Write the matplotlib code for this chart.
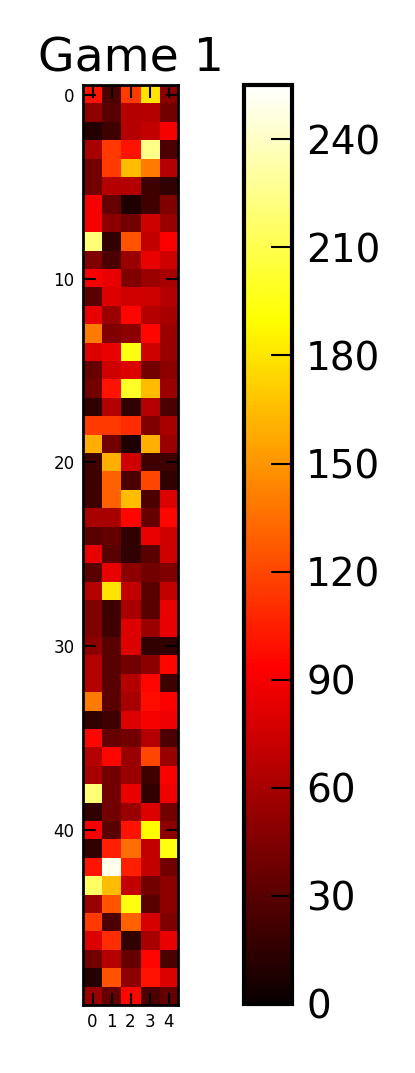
import matplotlib
matplotlib.use("Agg")
import matplotlib.pyplot as plt
import numpy as np

# values per move (rows) and player slot (columns)
game1_values = [
    [100, 25, 115, 180, 50],
    [50, 30, 65, 65, 40],
    [10, 20, 65, 70, 90],
    [60, 115, 100, 225, 25],
    [40, 115, 165, 140, 65],
    [40, 65, 65, 20, 15],
    [90, 35, 8, 20, 45],
    [90, 50, 40, 75, 55],
    [220, 15, 125, 70, 92],
    [45, 25, 55, 85, 75],
    [90, 85, 45, 55, 60],
    [30, 80, 75, 75, 65],
    [85, 55, 95, 65, 60],
    [140, 45, 50, 95, 55],
    [80, 85, 195, 75, 55],
    [35, 75, 80, 40, 50],
    [40, 100, 200, 165, 55],
    [15, 65, 15, 65, 25],
    [115, 115, 110, 45, 60],
    [160, 40, 8, 160, 55],
    [20, 160, 75, 20, 20],
    [20, 130, 25, 120, 15],
    [20, 130, 165, 25, 80],
    [60, 60, 95, 35, 95],
    [30, 35, 15, 85, 75],
    [85, 30, 15, 30, 75],
    [30, 85, 50, 40, 45],
    [65, 180, 70, 30, 70],
    [45, 20, 60, 30, 85],
    [45, 20, 80, 55, 85],
    [50, 30, 80, 15, 15],
    [65, 30, 40, 50, 95],
    [65, 30, 65, 95, 20],
    [140, 30, 60, 98, 92],
    [15, 20, 80, 90, 88],
    [95, 35, 40, 65, 25],
    [65, 95, 55, 120, 55],
    [60, 40, 55, 20, 92],
    [220, 40, 85, 15, 88],
    [15, 40, 55, 80, 40],
    [90, 30, 100, 190, 50],
    [15, 105, 135, 70, 195],
    [100, 250, 105, 70, 40],
    [215, 165, 70, 40, 50],
    [55, 125, 195, 30, 50],
    [115, 25, 130, 78, 45],
    [80, 110, 15, 60, 85],
    [40, 65, 35, 95, 25],
    [10, 125, 50, 100, 80],
    [55, 35, 95, 25, 35],
]
x_ticks = [0, 1, 2, 3, 4]
y_ticks = [0, 10, 20, 30, 40]
cbar_ticks = [0, 30, 60, 90, 120, 150, 180, 210, 240]

data = np.array(game1_values)

fig = plt.figure(figsize=(4.15, 10.73), dpi=100)
ax = fig.add_axes([0.2, 0.0634, 0.229, 0.857])
im = ax.imshow(data, cmap="hot", vmin=0, vmax=255,
               interpolation="nearest", aspect="auto")
ax.set_title("Game 1", fontsize=34, pad=10)
ax.set_xticks(x_ticks)
ax.set_yticks(y_ticks)
ax.tick_params(direction="in", top=True, right=True, length=9, width=1.5,
               labelsize=12, pad=6)
for s in ax.spines.values():
    s.set_linewidth(2)

cax = fig.add_axes([0.588, 0.0645, 0.116, 0.856])
cbar = fig.colorbar(im, cax=cax, ticks=cbar_ticks)
cbar.outline.set_linewidth(3)
cax.tick_params(direction="in", length=15, width=1.5, labelsize=28, pad=10)

fig.savefig("out.png", dpi=100, facecolor="white")
